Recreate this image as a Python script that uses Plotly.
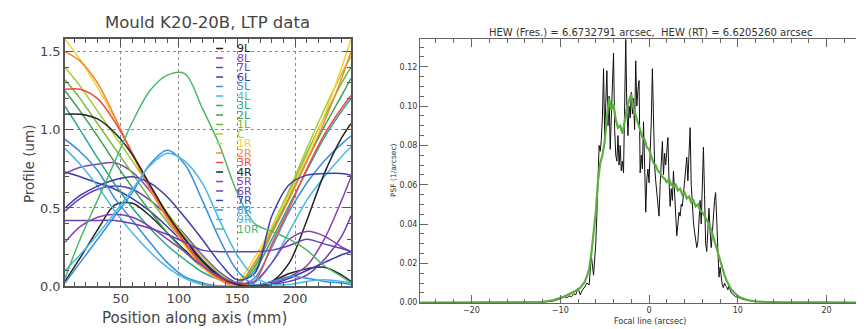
import plotly.graph_objects as go

# ---- left panel: LTP profiles of mould K20-20B ----
x_mm = [2, 15, 30, 45, 60, 75, 90, 105, 120, 135, 150, 165, 180, 195, 210, 225, 240, 248]

p_9L = [0.03, 0.18, 0.36, 0.52, 0.53, 0.45, 0.34, 0.23, 0.13, 0.05, 0.01, 0.00, 0.03, 0.08, 0.11, 0.12, 0.07, 0.03]
p_8L = [0.72, 0.76, 0.78, 0.79, 0.73, 0.61, 0.46, 0.31, 0.17, 0.07, 0.01, 0.00, 0.02, 0.06, 0.13, 0.30, 0.55, 0.70]
p_7L = [0.48, 0.56, 0.62, 0.64, 0.62, 0.55, 0.45, 0.33, 0.20, 0.09, 0.02, 0.00, 0.01, 0.03, 0.07, 0.17, 0.32, 0.45]
p_6L = [0.73, 0.70, 0.66, 0.62, 0.56, 0.48, 0.38, 0.27, 0.16, 0.07, 0.02, 0.00, 0.01, 0.05, 0.10, 0.15, 0.20, 0.22]
p_5L = [0.94, 0.86, 0.74, 0.56, 0.42, 0.28, 0.15, 0.06, 0.02, 0.00, 0.00, 0.05, 0.25, 0.48, 0.66, 0.80, 0.91, 0.96]
p_4L = [0.88, 0.78, 0.64, 0.48, 0.34, 0.22, 0.12, 0.05, 0.01, 0.00, 0.00, 0.02, 0.15, 0.35, 0.55, 0.70, 0.83, 0.89]
p_3L = [1.15, 1.00, 0.82, 0.65, 0.50, 0.37, 0.26, 0.17, 0.09, 0.04, 0.02, 0.10, 0.30, 0.52, 0.74, 0.95, 1.12, 1.20]
p_2L = [1.25, 1.12, 0.96, 0.79, 0.63, 0.48, 0.34, 0.22, 0.12, 0.05, 0.02, 0.12, 0.34, 0.57, 0.80, 1.02, 1.22, 1.33]
p_1L = [1.32, 1.20, 1.04, 0.88, 0.72, 0.56, 0.41, 0.27, 0.15, 0.06, 0.02, 0.13, 0.36, 0.60, 0.85, 1.08, 1.30, 1.40]
p_C = [1.40, 1.28, 1.12, 0.96, 0.80, 0.63, 0.47, 0.32, 0.19, 0.08, 0.02, 0.14, 0.38, 0.62, 0.88, 1.13, 1.36, 1.47]
p_1R = [1.58, 1.45, 1.27, 1.07, 0.85, 0.63, 0.43, 0.26, 0.12, 0.04, 0.03, 0.18, 0.38, 0.59, 0.83, 1.09, 1.40, 1.58]
p_2R = [1.50, 1.44, 1.30, 1.08, 0.84, 0.62, 0.43, 0.27, 0.13, 0.04, 0.00, 0.15, 0.34, 0.56, 0.80, 1.05, 1.33, 1.50]
p_3R = [1.26, 1.26, 1.20, 1.05, 0.85, 0.64, 0.45, 0.28, 0.14, 0.05, 0.01, 0.03, 0.27, 0.50, 0.75, 0.97, 1.14, 1.22]
p_4R = [1.10, 1.10, 1.07, 0.98, 0.84, 0.65, 0.46, 0.30, 0.16, 0.06, 0.01, 0.00, 0.03, 0.15, 0.42, 0.72, 0.95, 1.04]
p_5R = [0.28, 0.38, 0.44, 0.46, 0.44, 0.38, 0.30, 0.22, 0.13, 0.06, 0.02, 0.03, 0.15, 0.30, 0.35, 0.32, 0.25, 0.22]
p_6R = [0.42, 0.42, 0.42, 0.42, 0.40, 0.37, 0.33, 0.28, 0.23, 0.22, 0.22, 0.22, 0.23, 0.26, 0.30, 0.27, 0.24, 0.22]
p_7R = [0.50, 0.58, 0.64, 0.68, 0.70, 0.66, 0.57, 0.44, 0.30, 0.15, 0.04, 0.08, 0.45, 0.65, 0.71, 0.72, 0.72, 0.71]
p_8R = [0.02, 0.15, 0.30, 0.45, 0.60, 0.78, 0.87, 0.78, 0.55, 0.30, 0.10, 0.01, 0.03, 0.06, 0.05, 0.03, 0.02, 0.01]
p_9R = [0.10, 0.20, 0.33, 0.47, 0.62, 0.77, 0.85, 0.80, 0.66, 0.42, 0.20, 0.06, 0.01, 0.01, 0.03, 0.04, 0.03, 0.02]
p_10R = [0.05, 0.30, 0.55, 0.80, 1.05, 1.25, 1.35, 1.36, 1.14, 0.90, 0.60, 0.40, 0.35, 0.30, 0.23, 0.13, 0.06, 0.02]

labels = ['9L', '8L', '7L', '6L', '5L', '4L', '3L', '2L', '1L', 'C',
          '1R', '2R', '3R', '4R', '5R', '6R', '7R', '8R', '9R', '10R']
profiles = [p_9L, p_8L, p_7L, p_6L, p_5L, p_4L, p_3L, p_2L, p_1L, p_C,
            p_1R, p_2R, p_3R, p_4R, p_5R, p_6R, p_7R, p_8R, p_9R, p_10R]
colors = ['#222222', '#8a3fb0', '#6a3fb5', '#3c3caa', '#3a8ee0', '#45b8e8',
          '#2aa58a', '#3aa050', '#70bb3a', '#a8cc30', '#f3d430', '#f5873a',
          '#ee4a4a', '#222222', '#8a3fb0', '#6a3fb5', '#3c3caa', '#3a8ee0',
          '#45b8e8', '#4cb86a']

# ---- right panel: PSF along the focal line ----
tail_x_left = [-26, -20, -15, -13]
tail_x_right = [13, 15, 20, 26]

green_tail_left = [0.0, 0.0, 0.0001, 0.0002]
green_tail_right = [0.0004, 0.0002, 0.0001, 0.0]
# Fresnel PSF, from -12 to 12 arcsec every 0.25
green_psf = [0.0004, 0.0005, 0.0007, 0.0008, 0.0011, 0.0013, 0.0016, 0.0019, 0.0023, 0.0028,
             0.0033, 0.0038, 0.0045, 0.0048, 0.0055, 0.0060, 0.0068, 0.0075, 0.0090, 0.0105,
             0.0135, 0.0170, 0.0250, 0.0340, 0.0460, 0.0620, 0.0710, 0.0750, 0.0820, 0.0940,
             0.1040, 0.0980, 0.1010, 0.0930, 0.0890, 0.0900, 0.0860, 0.0920, 0.0990, 0.1030,
             0.1060, 0.0990, 0.0950, 0.0910, 0.0880, 0.0840, 0.0830, 0.0790, 0.0780, 0.0740,
             0.0710, 0.0700, 0.0670, 0.0660, 0.0640, 0.0630, 0.0610, 0.0630, 0.0600, 0.0590,
             0.0600, 0.0570, 0.0580, 0.0550, 0.0560, 0.0530, 0.0540, 0.0510, 0.0520, 0.0490,
             0.0500, 0.0470, 0.0460, 0.0440, 0.0420, 0.0400, 0.0370, 0.0330, 0.0290, 0.0250,
             0.0210, 0.0170, 0.0140, 0.0110, 0.0085, 0.0068, 0.0055, 0.0043, 0.0034, 0.0027,
             0.0022, 0.0018, 0.0015, 0.0012, 0.0010, 0.0009, 0.0007]

black_tail_left = [0.0, 0.0, 0.0001, 0.0001]
black_tail_right = [0.0003, 0.0001, 0.0, 0.0]
# ray-traced PSF: -12 to -6.25 every 0.25
black_low = [0.0002, 0.0003, 0.0004, 0.0005, 0.0007, 0.0009, 0.0012, 0.0015, 0.0020, 0.0025,
             0.0030, 0.0025, 0.0035, 0.0030, 0.0045, 0.0040, 0.0075, 0.0040, 0.0065, 0.0080,
             0.0100, 0.0090, 0.0240, 0.0140]
# -6 to 8.875 every 0.125
black_mid = [0.030, 0.045, 0.062, 0.080, 0.077, 0.083, 0.095, 0.119,
             0.085, 0.100, 0.118, 0.090, 0.105, 0.078, 0.092, 0.110,
             0.127, 0.088, 0.075, 0.072, 0.085, 0.070, 0.080, 0.067,
             0.072, 0.066, 0.095, 0.134, 0.098, 0.085, 0.100, 0.094,
             0.107, 0.096, 0.104, 0.088, 0.123, 0.100, 0.108, 0.113,
             0.066, 0.075, 0.068, 0.092, 0.070, 0.046, 0.063, 0.068,
             0.061, 0.075, 0.092, 0.119, 0.085, 0.070, 0.062, 0.055,
             0.048, 0.044, 0.060, 0.072, 0.082, 0.065, 0.076, 0.070,
             0.078, 0.084, 0.062, 0.049, 0.058, 0.052, 0.067, 0.055,
             0.042, 0.034, 0.040, 0.046, 0.044, 0.050, 0.049, 0.055,
             0.060, 0.068, 0.074, 0.062, 0.082, 0.089, 0.060, 0.048,
             0.041, 0.036, 0.033, 0.028, 0.031, 0.045, 0.052, 0.040,
             0.058, 0.079, 0.055, 0.030, 0.026, 0.038, 0.048, 0.036,
             0.028, 0.035, 0.046, 0.052, 0.056, 0.040, 0.022, 0.013,
             0.018, 0.012, 0.009, 0.0076, 0.010, 0.0085, 0.0080, 0.0065]
# 9 to 12 every 0.25
black_high = [0.0085, 0.0050, 0.0040, 0.0030, 0.0028, 0.0022, 0.0018, 0.0015, 0.0012,
              0.0010, 0.0009, 0.0007, 0.0005]

green_x = tail_x_left + [-12 + 0.25 * i for i in range(len(green_psf))] + tail_x_right
green_y = green_tail_left + green_psf + green_tail_right
black_x = (tail_x_left + [-12 + 0.25 * i for i in range(len(black_low))]
           + [-6 + 0.125 * i for i in range(len(black_mid))]
           + [9 + 0.25 * i for i in range(len(black_high))] + tail_x_right)
black_y = black_tail_left + black_low + black_mid + black_high + black_tail_right

W, H = 864, 329
def px(x):
    return x / W
def py(y):
    return 1 - y / H

fig = go.Figure()
for lab, vals, col in zip(labels, profiles, colors):
    fig.add_trace(go.Scatter(x=x_mm, y=vals, mode='lines', name=lab,
                             line=dict(color=col, width=1.5, shape='spline', smoothing=0.9),
                             xaxis='x', yaxis='y', showlegend=False))

fig.add_trace(go.Scatter(x=black_x, y=black_y, mode='lines', name='RT',
                         line=dict(color='#111111', width=1),
                         xaxis='x2', yaxis='y2', showlegend=False))
fig.add_trace(go.Scatter(x=green_x, y=green_y, mode='lines', name='Fresnel',
                         line=dict(color='#5cb040', width=2.2),
                         xaxis='x2', yaxis='y2', showlegend=False))

# in-plot key of the left panel
shapes = []
annotations = []
for i, (lab, col) in enumerate(zip(labels, colors)):
    yk = 1.52 - i * 0.0608
    shapes.append(dict(type='line', xref='x', yref='y', x0=132, x1=138, y0=yk, y1=yk,
                       line=dict(color=col, width=1.5)))
    annotations.append(dict(xref='x', yref='y', x=148, y=yk, text=lab, showarrow=False,
                            xanchor='left', yanchor='middle',
                            font=dict(size=11, color=col, family='DejaVu Sans')))

txt = '#444444'
def label(x, y, text, size, color, angle=0):
    return dict(xref='paper', yref='paper', x=px(x), y=py(y), text=text, textangle=angle,
                xanchor='center', yanchor='middle', showarrow=False,
                font=dict(size=size, color=color))

annotations += [
    label(199, 15, 'Mould K20-20B, LTP data', 16.5, txt),
    label(186, 318, 'Position along axis (mm)', 15, txt),
    label(21, 160, 'Profile (um)', 13.5, txt, -90),
    label(642, 25, 'HEW (Fres.) = 6.6732791 arcsec,  HEW (RT) = 6.6205260 arcsec', 10, '#333333'),
    label(642, 321, 'Focal line (arcsec)', 8, '#333333'),
    label(386, 167, 'PSF (1/arcsec)', 7.5, '#333333', -90),
]

left_ax = dict(showline=True, linecolor='#555555', linewidth=1.5, mirror='ticks',
               ticks='inside', ticklen=8, tickcolor='#555555', zeroline=False,
               showgrid=True, gridcolor='#8a8a8a', griddash='dot', gridwidth=1,
               tickfont=dict(size=13, color=txt))
right_ax = dict(showline=True, linecolor='#666666', linewidth=1, mirror='ticks',
                ticks='inside', ticklen=8, tickcolor='#666666', zeroline=False,
                showgrid=False, tickfont=dict(size=8, color='#333333'))

fig.update_layout(
    width=W, height=H, margin=dict(l=0, r=0, t=0, b=0),
    paper_bgcolor='white', plot_bgcolor='white',
    font=dict(family='DejaVu Sans'),
    xaxis=dict(left_ax, domain=[px(57), px(343)], range=[2, 248], anchor='y',
               tickvals=[50, 100, 150, 200],
               minor=dict(ticks='inside', ticklen=4, dtick=10, tick0=0, tickcolor='#555555')),
    yaxis=dict(left_ax, domain=[py(285), py(32)], range=[0, 1.58], anchor='x',
               tickvals=[0, 0.5, 1.0, 1.5], tickformat='.1f',
               minor=dict(ticks='inside', ticklen=4, dtick=0.1, tick0=0, tickcolor='#555555')),
    xaxis2=dict(right_ax, domain=[px(412), px(863)], range=[-25.8, 25.0], anchor='y2',
                dtick=10, tick0=0,
                minor=dict(ticks='inside', ticklen=4, dtick=2, tick0=0, tickcolor='#666666')),
    yaxis2=dict(right_ax, domain=[py(302), py(32)], range=[0, 0.134], anchor='x2',
                dtick=0.02, tickformat='.2f',
                minor=dict(ticks='inside', ticklen=4, dtick=0.005, tick0=0, tickcolor='#666666')),
    shapes=shapes, annotations=annotations,
)

fig.write_html("out.html")
